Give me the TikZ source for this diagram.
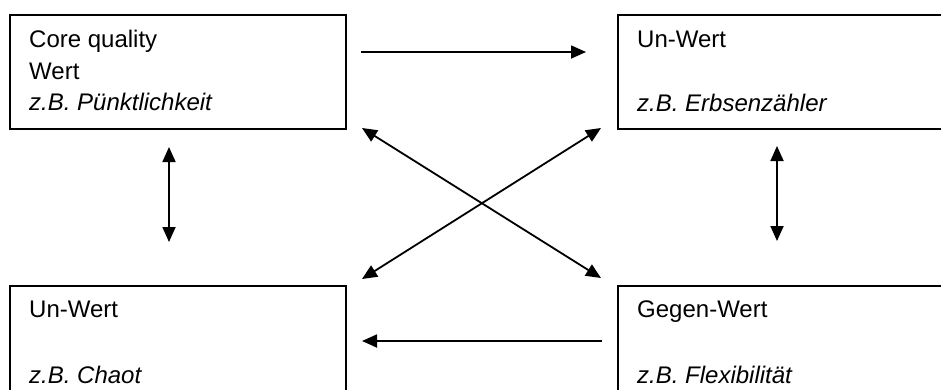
\documentclass[tikz,border=0pt]{standalone}
\usepackage{fontspec}
\setmainfont{Liberation Sans}
\usetikzlibrary{arrows.meta}
\begin{document}
\begin{tikzpicture}[x=1pt,y=-1pt,
  box/.style={draw=black,line width=1.8pt,inner sep=0pt},
  lbl/.style={anchor=base west,inner sep=0pt,font=\fontsize{24}{28}\selectfont},
  arr/.style={line width=1.8pt,-{Triangle[length=15pt,width=13pt]}},
  darr/.style={line width=1.8pt,{Triangle[length=15pt,width=13pt]}-{Triangle[length=15pt,width=13pt]}}]
\useasboundingbox (0,0) rectangle (941,389);
% boxes
\node[box,anchor=north west,minimum width=336pt,minimum height=114pt] (tl) at (9,14) {};
\node[box,anchor=north west,minimum width=343pt,minimum height=114pt] (tr) at (617,14) {};
\node[box,anchor=north west,minimum width=336pt,minimum height=115pt] (bl) at (9,285) {};
\node[box,anchor=north west,minimum width=343pt,minimum height=115pt] (br) at (617,285) {};
% texts
\node[lbl] (t1) at (29,47) {Core quality};
\node[lbl] (t2) at (29,79) {Wert};
\node[lbl] (t3) at (29,110) {\itshape z.B. Pünktlichkeit};
\node[lbl] (t4) at (637,47) {Un-Wert};
\node[lbl] (t5) at (637,111) {\itshape z.B. Erbsenzähler};
\node[lbl] (t6) at (29,317) {Un-Wert};
\node[lbl] (t7) at (29,383) {\itshape z.B. Chaot};
\node[lbl] (t8) at (637,317) {Gegen-Wert};
\node[lbl] (t9) at (637,383) {\itshape z.B. Flexibilität};
% arrow end points
\coordinate (a1) at (361,52);
\coordinate (a2) at (586,52);
\coordinate (b1) at (602,341);
\coordinate (b2) at (362,341);
\coordinate (v1) at (169,147);
\coordinate (v2) at (169,242);
\coordinate (w1) at (777,146);
\coordinate (w2) at (777,241);
\coordinate (d1) at (362,128);
\coordinate (d2) at (601,278);
\coordinate (e1) at (601,128);
\coordinate (e2) at (362,279);
\draw[arr] (a1) -- (a2);
\draw[arr] (b1) -- (b2);
\draw[darr] (v1) -- (v2);
\draw[darr] (w1) -- (w2);
\draw[darr] (d1) -- (d2);
\draw[darr] (e1) -- (e2);
\end{tikzpicture}
\end{document}
